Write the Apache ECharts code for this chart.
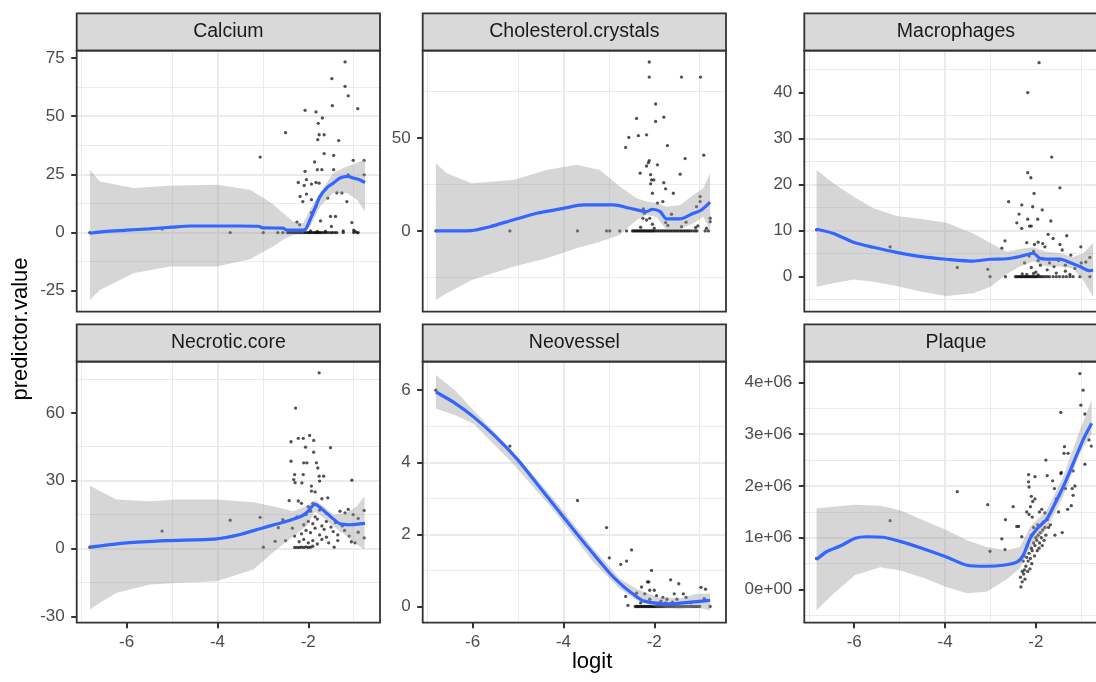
<!DOCTYPE html>
<html><head><meta charset="utf-8">
<script src="https://cdn.jsdelivr.net/npm/echarts@6/dist/echarts.min.js"></script>
<style>html,body{margin:0;padding:0;background:#fff}#c{width:1096px;height:682px}</style>
</head><body><div id="c"></div>
<script>
// ---------------- data ----------------
const panelNames = ['Calcium','Cholesterol.crystals','Macrophages','Necrotic.core','Neovessel','Plaque'];
const xTitle = 'logit';
const yTitle = 'predictor.value';
const xTicks = [-6,-4,-2];
const xLimits = [-7.1,-0.42];

// Calcium
const calciumYTicks = [-25,0,25,50,75];
const calciumYLimits = [-34,78.1];
const calciumZeroX = [-6.81,-3.72,-2.99,-2.67,-2.56,-2.46,-2.43,-2.40,-2.37,-2.34,-2.31,-2.28,-2.26,-2.23,-2.20,-2.17,-2.14,-2.10,-2.07,-2.03,-2.00,-1.97,-1.94,-1.90,-1.87,-1.84,-1.81,-1.78,-1.75,-1.72,-1.68,-1.64,-1.60,-1.55,-1.50,-1.46,-1.41,-1.37,-1.23,-1.00,-0.93,-0.90];
const calciumPoints = [[-5.22,1.5],[-2.50,42.9],[-3.06,32.4],[-2.07,52.5],[-1.83,51.8],[-1.69,49.2],[-1.78,46.9],[-1.76,42.0],[-1.65,42.0],[-1.79,39.9],[-1.33,39.5],[-1.48,66.1],[-1.19,73.3],[-1.19,62.8],[-1.12,58.7],[-0.91,53.2],[-1.47,54.5],[-1.65,33.9],[-1.44,33.1],[-1.86,30.3],[-1.80,27.0],[-1.70,27.0],[-1.44,27.0],[-2.07,26.3],[-1.01,31.0],[-0.77,31.0],[-0.77,24.8],[-1.12,24.8],[-2.22,21.5],[-2.04,22.7],[-1.93,20.8],[-1.83,21.5],[-1.76,21.2],[-2.09,20.2],[-2.18,15.5],[-2.12,13.3],[-1.93,14.1],[-2.04,16.5],[-1.87,9.8],[-1.83,11.2],[-1.57,14.8],[-1.37,17.0],[-1.26,17.0],[-1.15,13.3],[-1.73,5.0],[-1.51,6.9],[-1.40,6.9],[-1.49,2.6],[-1.23,0.7],[-1.04,4.3],[-2.25,4.5],[-2.19,3.3],[-1.93,8.5],[-1.00,1.0],[-0.97,0.5],[-2.40,0.6],[-2.30,0.8],[-2.20,0.6],[-2.10,0.9],[-1.95,0.7],[-1.80,0.5],[-1.62,0.6]];
const calciumLine = [[-6.81,-0.3],[-6.5,0.4],[-6.0,1.0],[-5.5,1.6],[-5.0,2.3],[-4.6,2.8],[-4.0,2.8],[-3.5,2.8],[-3.1,2.7],[-3.0,2.0],[-2.55,1.9],[-2.48,1.0],[-2.2,1.0],[-2.07,1.2],[-1.96,5.5],[-1.85,10.5],[-1.74,15.5],[-1.56,19.8],[-1.45,21.2],[-1.30,23.4],[-1.12,24.1],[-1.01,23.4],[-0.87,22.7],[-0.75,21.5]];
const calciumBandX = [-6.81,-6.59,-5.85,-5.05,-4.02,-3.28,-2.92,-2.77,-2.55,-2.33,-2.11,-1.96,-1.74,-1.45,-1.15,-0.93,-0.75];
const calciumBandUpper = [27,21.9,19.1,20.1,20.5,18.4,14.1,12,8.3,4.7,4.0,10,17,25.6,28.4,29.9,31.6];
const calciumBandLower = [-29,-24.7,-17.5,-14.6,-14.6,-11.5,-7.5,-6.0,-3.0,-1.0,-0.3,2.6,11.2,17,17,14.1,9.0];

// Cholesterol.crystals
const cholYTicks = [0,50];
const cholYLimits = [-43.5,97.1];
const cholZeroX = [-6.81,-5.18,-3.69,-3.05,-2.98,-2.76,-2.61,-2.48,-2.45,-2.42,-2.39,-2.36,-2.33,-2.30,-2.27,-2.24,-2.21,-2.18,-2.15,-2.12,-2.09,-2.06,-2.03,-2.00,-1.96,-1.92,-1.88,-1.84,-1.80,-1.76,-1.72,-1.68,-1.64,-1.60,-1.56,-1.52,-1.48,-1.44,-1.40,-1.36,-1.32,-1.28,-1.24,-1.20,-1.15,-1.10,-1.06,-0.88,-0.81];
const cholPoints = [[-2.11,91.0],[-2.11,82.9],[-1.40,82.9],[-0.98,82.9],[-1.97,68.4],[-2.39,60.6],[-1.97,59.0],[-1.79,61.3],[-2.56,50.4],[-2.35,51.3],[-2.17,51.8],[-2.63,45.0],[-1.71,46.0],[-1.32,39.0],[-0.91,40.8],[-2.11,37.9],[-2.13,36.8],[-1.93,35.6],[-2.17,35.0],[-2.31,31.1],[-2.08,30.3],[-1.43,30.6],[-2.06,27.5],[-2.01,27.5],[-1.79,26.0],[-2.08,25.4],[-1.75,22.7],[-2.04,20.3],[-1.58,20.3],[-1.81,15.8],[-1.93,15.0],[-1.62,9.0],[-0.99,18.5],[-0.99,15.8],[-1.07,13.1],[-0.77,6.9],[-0.77,5.0],[-2.24,11.9],[-2.22,9.6],[-2.25,6.8],[-2.17,5.9],[-2.10,6.8],[-2.04,3.6],[-1.40,2.3],[-1.30,4.7],[-1.09,1.8],[-1.04,2.7],[-1.75,4.5],[-1.70,3.0],[-2.30,2.0],[-2.00,1.5],[-0.85,1.5]];
const cholLine = [[-6.81,0],[-6.02,0.2],[-5.62,2.3],[-5.11,5.9],[-4.59,9.5],[-4.0,12.2],[-3.56,14.0],[-2.90,14.0],[-2.53,12.2],[-2.17,10.4],[-2.04,11.7],[-1.87,10.4],[-1.73,6.5],[-1.43,6.5],[-1.14,9.5],[-0.96,11.3],[-0.77,15.5]];
const cholBandX = [-6.81,-6.57,-6.02,-5.11,-4.37,-3.71,-3.20,-2.76,-2.39,-2.17,-1.95,-1.73,-1.43,-1.14,-0.92,-0.77];
const cholBandUpper = [36.5,31.1,25.7,27.5,32.9,35.6,32.9,23.9,17.6,15.8,15.0,13.1,14.0,19.4,23.0,31.1];
const cholBandLower = [-37.2,-33.6,-26.4,-19.3,-14.7,-9.3,-5.8,-2.2,5.9,8.6,7.5,0.5,0.9,4.2,7.7,0.5];

// Macrophages
const macroYTicks = [0,10,20,30,40];
const macroYLimits = [-7.6,49.1];
const macroZeroX = [-3.01,-2.67,-2.45,-2.42,-2.39,-2.36,-2.33,-2.30,-2.27,-2.24,-2.21,-2.18,-2.15,-2.12,-2.09,-2.06,-2.03,-2.00,-1.97,-1.93,-1.89,-1.85,-1.80,-1.75,-1.70,-1.62,-1.55,-1.48,-1.40,-1.33,-1.25,-1.18,-1.03,-0.81];
const macroPoints = [[-6.83,10.2],[-5.21,6.5],[-3.73,2.0],[-3.06,1.6],[-2.75,6.2],[-2.68,7.8],[-2.60,16.3],[-2.31,15.6],[-2.18,40.0],[-1.93,46.5],[-2.18,22.6],[-2.11,21.5],[-1.65,26.0],[-1.47,19.3],[-2.04,18.1],[-2.07,15.2],[-1.86,14.5],[-2.37,13.6],[-2.18,12.5],[-1.96,12.5],[-2.42,11.7],[-2.31,10.5],[-2.14,11.0],[-2.10,11.0],[-1.67,12.1],[-1.32,8.9],[-1.73,9.2],[-1.62,8.3],[-2.03,7.0],[-1.95,7.5],[-1.85,7.2],[-1.80,6.5],[-2.20,7.4],[-1.47,7.0],[-1.42,5.8],[-1.01,6.5],[-1.23,4.7],[-0.81,4.2],[-0.90,3.2],[-1.00,3.0],[-1.14,1.8],[-2.25,3.0],[-2.10,2.0],[-2.00,1.0],[-1.90,2.5],[-1.75,1.5],[-1.60,2.2],[-1.55,0.8],[-1.35,1.2],[-1.25,0.5],[-2.15,4.5],[-1.95,3.5],[-1.85,4.0],[-1.70,3.0],[-1.50,3.5],[-2.05,5.5],[-1.35,2.5],[-2.30,0.6],[-2.20,0.5],[-2.05,0.7],[-1.95,0.4]];
const macroLine = [[-6.83,10.3],[-6.46,9.4],[-6.02,7.5],[-5.58,6.4],[-5.07,5.3],[-4.48,4.3],[-3.97,3.8],[-3.38,3.4],[-3.0,3.8],[-2.64,3.9],[-2.35,4.4],[-2.06,5.1],[-1.91,4.0],[-1.77,3.8],[-1.47,3.8],[-1.25,3.1],[-1.03,2.2],[-0.81,1.3],[-0.74,1.4]];
const macroBandX = [-6.83,-6.46,-6.02,-5.58,-5.07,-4.48,-3.97,-3.38,-3.0,-2.64,-2.35,-2.06,-1.77,-1.47,-1.18,-0.96,-0.74];
const macroBandUpper = [23.2,20.3,17.4,14.9,13.2,12.5,11.7,9.4,7.3,5.4,6.0,6.4,5.4,5.1,4.3,5.1,7.3];
const macroBandLower = [-2.2,-1.4,-0.6,-1.1,-2.0,-3.3,-4.2,-3.6,-2.2,0.6,2.2,3.3,2.2,2.2,1.8,-0.7,-4.3];

// Necrotic.core
const necroYTicks = [-30,0,30,60];
const necroYLimits = [-32.8,82.6];
const necroZeroX = [];
const necroPoints = [[-6.81,0.6],[-5.22,7.7],[-3.72,12.5],[-3.06,13.8],[-2.99,0.6],[-2.66,9.2],[-2.73,3.2],[-2.56,12.8],[-2.50,3.5],[-2.42,21.2],[-2.38,38.6],[-2.38,47.2],[-2.28,62.1],[-1.76,77.7],[-2.22,48.7],[-2.11,48.7],[-1.97,50.0],[-1.88,47.8],[-2.06,44.8],[-1.88,42.6],[-1.51,44.6],[-2.10,37.9],[-2.03,37.9],[-1.82,37.9],[-1.79,35.6],[-2.30,32.7],[-2.32,30.5],[-2.29,29.1],[-2.11,32.7],[-2.14,29.0],[-1.93,27.6],[-1.93,25.4],[-1.76,32.0],[-1.66,32.0],[-1.75,29.8],[-1.04,30.2],[-1.57,22.4],[-2.22,21.0],[-2.15,20.0],[-1.30,16.5],[-1.19,15.8],[-1.12,17.3],[-1.01,15.0],[-0.90,13.3],[-0.77,16.8],[-1.43,0.6],[-0.77,4.7],[-0.97,2.5],[-0.90,7.2],[-1.45,7.5],[-1.35,6.0],[-1.20,8.0],[-1.10,5.5],[-1.05,3.0],[-2.30,0.5],[-2.25,0.5],[-2.20,0.5],[-2.15,0.6],[-2.10,0.5],[-2.05,0.7],[-2.00,0.5],[-1.95,0.6],[-1.90,1.0],[-2.20,3.0],[-2.10,4.0],[-2.00,2.5],[-1.90,3.5],[-1.80,2.0],[-1.70,4.0],[-2.15,6.5],[-2.05,8.0],[-1.95,7.0],[-1.85,9.0],[-1.75,6.0],[-1.65,8.5],[-2.10,10.5],[-2.00,12.0],[-1.90,11.0],[-1.80,13.0],[-1.70,10.0],[-1.60,12.0],[-2.05,15.0],[-1.95,16.5],[-1.85,14.0],[-1.75,17.0],[-2.00,18.5],[-1.90,20.0],[-1.60,5.0],[-1.55,2.5],[-1.50,9.5],[-1.40,11.5],[-1.35,3.5],[-1.25,10.0],[-1.60,15.5],[-2.25,14.0],[-2.35,9.0],[-2.30,5.5],[-1.85,25.0],[-1.70,22.0]];
const necroLine = [[-6.81,0.6],[-6.0,2.5],[-5.12,3.5],[-4.02,4.3],[-3.50,6.2],[-2.99,9.2],[-2.55,11.6],[-2.18,14.0],[-2.04,15.8],[-1.85,19.5],[-1.70,17.5],[-1.48,13.6],[-1.30,10.9],[-1.08,10.5],[-0.75,11.1]];
const necroBandX = [-6.81,-6.59,-6.22,-5.48,-4.90,-4.02,-3.21,-2.70,-2.33,-2.04,-1.85,-1.67,-1.45,-1.15,-0.93,-0.76];
const necroBandUpper = [27.9,25.4,21.7,20.9,21.7,21.7,20.5,18.4,16.5,18.7,21.4,18.7,15.0,15.8,18.7,23.1];
const necroBandLower = [-27.0,-24.0,-19.6,-15.9,-15.2,-14.5,-9.3,-0.4,5.4,9.9,16.5,13.6,9.9,5.4,1.8,-0.4];

// Neovessel
const neoYTicks = [0,2,4,6];
const neoYLimits = [-0.45,6.79];
const neoZeroX = [-2.42,-2.39,-2.36,-2.33,-2.30,-2.27,-2.24,-2.21,-2.18,-2.15,-2.12,-2.09,-2.06,-2.03,-2.00,-1.97,-1.94,-1.91,-1.88,-1.85,-1.82,-1.79,-1.75,-1.71,-1.67,-1.63,-1.59,-1.55,-1.50,-1.45,-1.40,-1.35,-1.30,-1.25,-1.20,-1.15,-1.10,-1.05,-1.00];
const neoPoints = [[-6.81,6.0],[-5.18,4.45],[-3.69,2.94],[-3.05,2.19],[-2.99,1.35],[-2.74,1.17],[-2.61,1.26],[-2.50,1.57],[-2.63,0.28],[-2.58,0.03],[-2.39,0.37],[-2.28,0.54],[-2.21,0.35],[-2.15,0.68],[-2.12,0.68],[-2.06,1.0],[-2.10,0.45],[-2.00,0.45],[-1.95,0.3],[-2.10,0.2],[-1.81,0.25],[-1.72,0.2],[-1.64,0.74],[-1.46,0.63],[-1.56,0.35],[-1.36,0.35],[-1.30,0.25],[-0.97,0.53],[-0.87,0.48],[-0.90,0.22],[-0.77,0.0],[-2.30,0.1],[-2.20,0.15],[-1.90,0.1],[-1.85,0.15],[-1.75,0.1],[-1.60,0.12],[-1.50,0.2],[-1.20,0.1]];
const neoLine = [[-6.81,5.95],[-6.4,5.65],[-6.0,5.28],[-5.5,4.72],[-5.0,4.06],[-4.5,3.27],[-4.0,2.48],[-3.5,1.70],[-3.0,0.95],[-2.7,0.58],[-2.45,0.33],[-2.25,0.16],[-2.0,0.10],[-1.8,0.07],[-1.5,0.08],[-1.2,0.12],[-0.77,0.17]];
const neoBandX = [-6.81,-6.39,-5.98,-5.11,-4.22,-3.34,-2.76,-2.39,-1.95,-1.43,-1.07,-0.77];
const neoBandUpper = [6.42,6.0,5.44,4.29,2.99,1.60,0.77,0.49,0.26,0.22,0.35,0.35];
const neoBandLower = [5.49,5.31,5.07,3.96,2.67,1.23,0.49,0.17,-0.02,-0.06,-0.02,-0.11];

// Plaque
const plaqueYTicks = [0,1e6,2e6,3e6,4e6];
const plaqueYLimits = [-0.64e6,4.40e6];
const plaqueZeroX = [];
const plaquePoints = [[-6.83,0.60e6],[-5.21,1.33e6],[-3.73,1.89e6],[-3.06,1.64e6],[-3.01,0.74e6],[-2.75,0.98e6],[-2.68,0.77e6],[-2.67,1.35e6],[-2.50,1.60e6],[-2.42,1.22e6],[-2.38,1.22e6],[-2.31,1.02e6],[-2.16,2.22e6],[-2.16,2.08e6],[-2.15,1.98e6],[-2.02,2.18e6],[-1.78,2.50e6],[-1.75,2.20e6],[-1.63,2.10e6],[-1.45,3.42e6],[-1.45,2.24e6],[-1.59,1.95e6],[-1.37,2.76e6],[-1.38,2.63e6],[-1.03,4.17e6],[-0.96,3.85e6],[-1.01,3.56e6],[-0.92,3.39e6],[-0.83,2.89e6],[-0.78,2.77e6],[-0.92,2.42e6],[-1.44,2.26e6],[-1.20,1.95e6],[-1.18,1.82e6],[-1.22,1.62e6],[-1.14,2.0e6],[-1.18,2.29e6],[-1.29,2.63e6],[-2.10,1.8e6],[-2.07,1.7e6],[-2.12,1.6e6],[-2.02,1.75e6],[-2.20,1.5e6],[-2.15,1.45e6],[-2.08,1.4e6],[-1.92,1.5e6],[-1.87,1.55e6],[-1.80,1.48e6],[-1.75,1.35e6],[-1.68,1.25e6],[-1.58,1.05e6],[-1.30,1.55e6],[-1.35,1.95e6],[-1.55,1.75e6],[-1.50,1.5e6],[-1.42,1.1e6],[-2.33,0.05e6],[-2.34,0.24e6],[-2.30,0.15e6],[-2.27,0.3e6],[-2.25,0.38e6],[-2.22,0.45e6],[-2.28,0.55e6],[-2.20,0.62e6],[-2.17,0.55e6],[-2.15,0.7e6],[-2.12,0.6e6],[-2.10,0.8e6],[-2.08,0.75e6],[-2.05,0.9e6],[-2.02,0.85e6],[-2.00,1.0e6],[-1.98,0.95e6],[-1.95,1.05e6],[-1.92,0.9e6],[-1.90,1.1e6],[-1.88,1.0e6],[-1.85,1.15e6],[-1.82,0.95e6],[-1.80,1.2e6],[-1.78,1.05e6],[-2.30,0.35e6],[-2.24,0.2e6],[-2.18,0.35e6],[-2.13,0.4e6],[-2.09,0.5e6],[-2.03,0.65e6],[-1.97,0.75e6],[-1.93,0.8e6],[-1.86,0.85e6],[-2.26,0.65e6],[-2.19,0.85e6],[-2.10,1.05e6],[-2.05,1.2e6],[-1.96,1.25e6],[-1.84,1.3e6],[-1.72,1.2e6]];
const plaqueLine = [[-6.83,0.58e6],[-6.61,0.73e6],[-6.31,0.84e6],[-5.98,0.99e6],[-5.73,1.02e6],[-5.36,1.01e6],[-4.99,0.93e6],[-4.48,0.79e6],[-3.97,0.63e6],[-3.52,0.47e6],[-3.08,0.45e6],[-2.72,0.47e6],[-2.42,0.53e6],[-2.28,0.66e6],[-2.13,0.98e6],[-1.98,1.17e6],[-1.76,1.36e6],[-1.58,1.66e6],[-1.40,1.98e6],[-1.18,2.43e6],[-0.96,2.89e6],[-0.77,3.21e6]];
const plaqueBandX = [-6.83,-6.46,-5.98,-5.43,-4.99,-4.48,-3.97,-3.52,-3.08,-2.64,-2.35,-2.13,-1.76,-1.40,-1.03,-0.77];
const plaqueBandUpper = [1.57e6,1.60e6,1.64e6,1.62e6,1.53e6,1.34e6,1.15e6,0.95e6,0.82e6,0.76e6,0.82e6,1.21e6,1.53e6,2.18e6,3.08e6,3.66e6];
const plaqueBandLower = [-0.40e6,-0.08e6,0.28e6,0.43e6,0.37e6,0.23e6,0.05e6,-0.07e6,-0.04e6,0.20e6,0.41e6,0.80e6,1.18e6,1.79e6,2.63e6,3.01e6];

// ---------------- build ----------------
function sci(v){
  if (v === 0) return '0e+00';
  const e = Math.floor(Math.log10(Math.abs(v)) + 1e-9);
  const m = Math.round(v / Math.pow(10, e) * 100) / 100;
  return m + 'e' + (e < 0 ? '-' : '+') + String(Math.abs(e)).padStart(2, '0');
}
const panels = [
  {pts: calciumPoints, zx: calciumZeroX, line: calciumLine, bx: calciumBandX, bu: calciumBandUpper, bl: calciumBandLower, yl: calciumYLimits, yt: calciumYTicks},
  {pts: cholPoints, zx: cholZeroX, line: cholLine, bx: cholBandX, bu: cholBandUpper, bl: cholBandLower, yl: cholYLimits, yt: cholYTicks},
  {pts: macroPoints, zx: macroZeroX, line: macroLine, bx: macroBandX, bu: macroBandUpper, bl: macroBandLower, yl: macroYLimits, yt: macroYTicks},
  {pts: necroPoints, zx: necroZeroX, line: necroLine, bx: necroBandX, bu: necroBandUpper, bl: necroBandLower, yl: necroYLimits, yt: necroYTicks},
  {pts: neoPoints, zx: neoZeroX, line: neoLine, bx: neoBandX, bu: neoBandUpper, bl: neoBandLower, yl: neoYLimits, yt: neoYTicks},
  {pts: plaquePoints, zx: plaqueZeroX, line: plaqueLine, bx: plaqueBandX, bu: plaqueBandUpper, bl: plaqueBandLower, yl: plaqueYLimits, yt: plaqueYTicks, fmt: sci}
];

const FONT = "'Liberation Sans', Arial, sans-serif";
const L = {colLeft: [76.7, 422.7, 804.3], rowTop: [50.7, 361.7], w: 303.3, h: 261, stripH: 37.4};
const grids = [], xAxes = [], yAxes = [], series = [], graphics = [];

panels.forEach((p, i) => {
  const col = i % 3, row = Math.floor(i / 3);
  const left = L.colLeft[col], top = L.rowTop[row];
  const step = p.yt[1] - p.yt[0];
  grids.push({left: left, top: top, width: L.w, height: L.h, show: false, containLabel: false, outerBoundsMode: 'none'});
  const bottomRow = row === 1;
  xAxes.push({
    type: 'value', gridIndex: i, position: 'bottom', min: xLimits[0], max: xLimits[1], splitNumber: 3, minInterval: 2, maxInterval: 2,
    axisLine: {show: false, onZero: false},
    axisTick: {show: bottomRow, length: 5.5, customValues: xTicks, lineStyle: {color: '#333333', width: 2}},
    axisLabel: {show: bottomRow, customValues: xTicks, fontSize: 17, color: '#4d4d4d', margin: 11, fontFamily: FONT},
    splitLine: {show: true, showMinLine: false, showMaxLine: false, lineStyle: {color: '#ebebeb', width: 2}},
    minorTick: {show: false, splitNumber: 2},
    minorSplitLine: {show: true, lineStyle: {color: '#ebebeb', width: 1}}
  });
  yAxes.push({
    type: 'value', gridIndex: i, position: 'left', min: p.yl[0], max: p.yl[1], splitNumber: 4, minInterval: step, maxInterval: step,
    axisLine: {show: false, onZero: false},
    axisTick: {show: true, length: 5.5, customValues: p.yt, lineStyle: {color: '#333333', width: 2}},
    axisLabel: {show: true, customValues: p.yt, fontSize: 17, color: '#4d4d4d', margin: 12, fontFamily: FONT,
      formatter: p.fmt ? p.fmt : (v => String(v))},
    splitLine: {show: true, showMinLine: false, showMaxLine: false, lineStyle: {color: '#ebebeb', width: 2}},
    minorTick: {show: false, splitNumber: 2},
    minorSplitLine: {show: true, lineStyle: {color: '#ebebeb', width: 1}}
  });
  const allPts = p.pts.concat(p.zx.map(x => [x, 0]));
  series.push({
    type: 'scatter', xAxisIndex: i, yAxisIndex: i, data: allPts, symbol: 'circle', symbolSize: 3.3,
    itemStyle: {color: 'rgba(0,0,0,0.85)'}, silent: true, z: 2, animation: false
  });
  const bx = p.bx, bu = p.bu, bl = p.bl;
  series.push({
    type: 'custom', xAxisIndex: i, yAxisIndex: i, data: [[bx[0], bu[0]]], silent: true, z: 3, animation: false,
    renderItem: function (params, api) {
      const pts = [];
      for (let k = 0; k < bx.length; k++) pts.push(api.coord([bx[k], bu[k]]));
      for (let k = bx.length - 1; k >= 0; k--) pts.push(api.coord([bx[k], bl[k]]));
      return {type: 'polygon', shape: {points: pts, smooth: 0}, style: {fill: 'rgba(153,153,153,0.4)', stroke: null}};
    }
  });
  series.push({
    type: 'line', xAxisIndex: i, yAxisIndex: i, data: p.line, showSymbol: false, smooth: 0.25,
    lineStyle: {color: '#3366FF', width: 3.2}, silent: true, z: 4, animation: false
  });
  // strip
  graphics.push({type: 'rect', z: 50, shape: {x: left, y: top - L.stripH, width: L.w, height: L.stripH},
    style: {fill: '#d9d9d9', stroke: '#333333', lineWidth: 1.8}});
  graphics.push({type: 'text', z: 51, x: left + L.w / 2, y: top - L.stripH / 2,
    style: {text: panelNames[i], fontSize: 19.5, fontFamily: FONT, fill: '#1a1a1a', textAlign: 'center', textVerticalAlign: 'middle'}});
  // panel border
  graphics.push({type: 'rect', z: 50, shape: {x: left, y: top, width: L.w, height: L.h},
    style: {fill: 'rgba(0,0,0,0)', stroke: '#333333', lineWidth: 1.8}});
});

graphics.push({type: 'text', z: 51, x: (L.colLeft[0] + L.colLeft[2] + L.w) / 2, y: 662,
  style: {text: xTitle, fontSize: 22, fontFamily: FONT, fill: '#000000', textAlign: 'center', textVerticalAlign: 'middle'}});
graphics.push({type: 'text', z: 51, x: 21, y: 329, rotation: Math.PI / 2,
  style: {text: yTitle, fontSize: 22, fontFamily: FONT, fill: '#000000', textAlign: 'center', textVerticalAlign: 'middle'}});

const chart = echarts.init(document.getElementById('c'), null, {renderer: 'canvas'});
chart.setOption({
  animation: false,
  backgroundColor: '#ffffff',
  grid: grids, xAxis: xAxes, yAxis: yAxes, series: series,
  graphic: {elements: graphics}
});
</script>
</body></html>
